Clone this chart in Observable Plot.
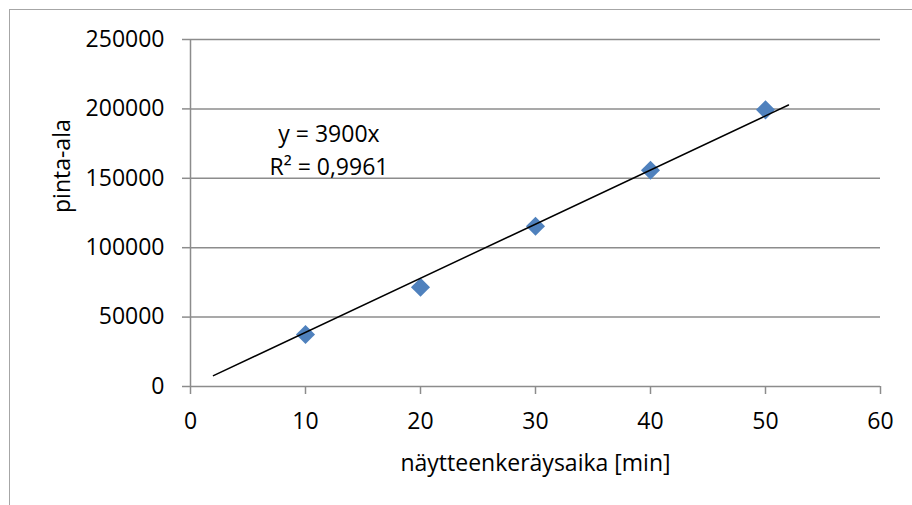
<!DOCTYPE html>
<html>
<head>
<meta charset="utf-8">
<script src="https://cdn.jsdelivr.net/npm/d3@7"></script>
<script src="https://cdn.jsdelivr.net/npm/@observablehq/plot@0.6"></script>
<style>
  html, body { margin: 0; padding: 0; background: #fff; overflow: hidden; }
  #wrap { position: relative; width: 912px; height: 505px; overflow: hidden; }
  #frame { position: absolute; left: 9px; top: 9px; width: 940px; height: 540px; border: 1.5px solid #a6a6a6; box-sizing: border-box; }
  #chart { position: absolute; left: 0; top: 0; }
  svg { font-family: "Open Sans", Lato, sans-serif; }
</style>
</head>
<body>
<div id="wrap">
  <div id="frame"></div>
  <div id="chart"></div>
</div>
<script>
// Data
const sampleTime = [10, 20, 30, 40, 50];           // näytteenkeräysaika [min]
const area = [37500, 71500, 115500, 155800, 199300]; // pinta-ala
const trendX = [2, 52];
const trendY = [7800, 202800];                       // y = 3900x at the ends
const xTicks = [0, 10, 20, 30, 40, 50, 60];
const yTicks = [0, 50000, 100000, 150000, 200000, 250000];
const equationLines = ["y = 3900x", "R² = 0,9961"];
const equationAt = {x: 12.04, y: 171800};
const xLabel = "näytteenkeräysaika [min]";
const yLabel = "pinta-ala";

const points = sampleTime.map((t, i) => ({t, a: area[i]}));
const trend = trendX.map((x, i) => ({x, y: trendY[i]}));

const FS = 23;
const gridColor = "#8c8c8c";
const chart = Plot.plot({
  width: 912,
  height: 505,
  marginLeft: 190,
  marginRight: 32,
  marginTop: 39,
  marginBottom: 119,
  style: {fontFamily: "'Open Sans', Lato, sans-serif", fontSize: FS + "px", color: "#000", background: "transparent"},
  x: {domain: [0, 60]},
  y: {domain: [0, 250000]},
  marks: [
    Plot.gridY(yTicks, {stroke: gridColor, strokeOpacity: 1, strokeWidth: 1.5}),
    Plot.ruleX([0], {stroke: gridColor, strokeWidth: 1.5}),
    Plot.axisY(yTicks, {tickSize: 8, tickPadding: 18, stroke: gridColor, strokeWidth: 1.5, tickFormat: d => String(d), label: null, fill: "#000", fontSize: FS}),
    Plot.axisX(xTicks, {tickSize: 8, tickPadding: 18, stroke: gridColor, strokeWidth: 1.5, tickFormat: d => String(d), label: null, fill: "#000", fontSize: FS}),
    Plot.dot(points, {x: "t", y: "a", symbol: "diamond2", r: 8.6, fill: "#4F81BD", stroke: "none"}),
    Plot.line(trend, {x: "x", y: "y", stroke: "#000", strokeWidth: 1.5}),
    Plot.text([equationLines.join("\n")], {x: () => equationAt.x, y: () => equationAt.y, text: d => d, fontSize: FS, lineHeight: 1.43, fill: "#000", textAnchor: "middle"}),
    Plot.text([xLabel], {frameAnchor: "bottom", dy: 77, text: d => d, fontSize: FS, fill: "#000", lineAnchor: "middle"}),
    Plot.text([yLabel], {frameAnchor: "left", dx: -128, rotate: -90, text: d => d, fontSize: FS, fill: "#000", lineAnchor: "middle"})
  ]
});
document.getElementById("chart").appendChild(chart);
</script>
</body>
</html>
